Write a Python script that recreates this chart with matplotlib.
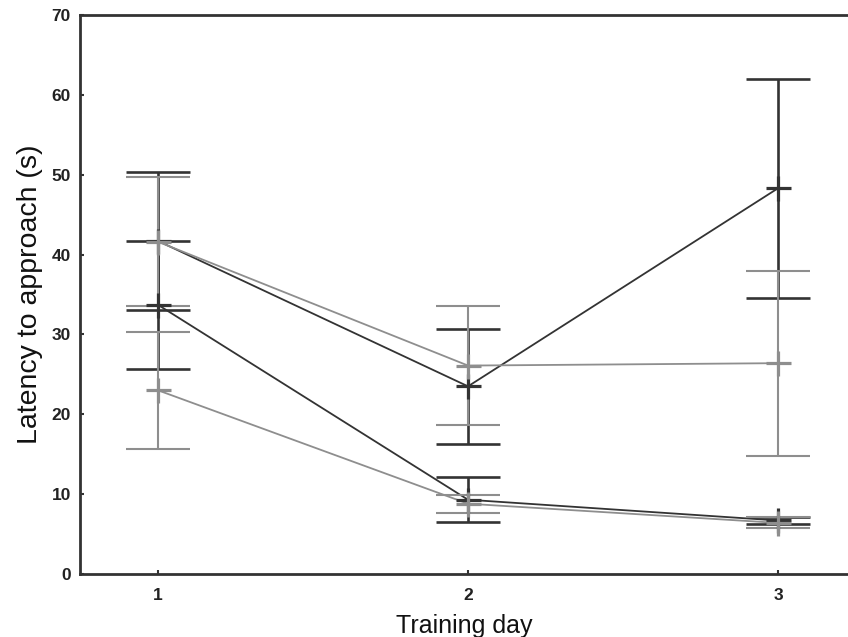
import numpy as np
import matplotlib
matplotlib.use("Agg")
import matplotlib.pyplot as plt

plt.rcParams["font.family"] = ["Liberation Sans", "DejaVu Sans"]

# Dados
dias = [1, 2, 3]
media_a = [41.7, 23.5, 48.3]   # escuro
erro_a = [8.7, 7.2, 13.7]
media_b = [41.6, 26.1, 26.4]   # cinza
erro_b = [8.1, 7.4, 11.6]
media_c = [33.7, 9.3, 6.7]     # escuro
erro_c = [8.0, 2.8, 0.4]
media_d = [23.0, 8.8, 6.4]     # cinza
erro_d = [7.3, 1.1, 0.7]

escuro = "#333333"
cinza = "#8e8e8e"

fig = plt.figure(figsize=(8.48, 6.37), dpi=100)
ax = fig.add_axes([80 / 848, 63 / 637, 768 / 848, 559 / 637])

series = [
    (media_a, erro_a, escuro, 1.9),
    (media_c, erro_c, escuro, 1.9),
    (media_b, erro_b, cinza, 1.5),
    (media_d, erro_d, cinza, 1.5),
]

for media, erro, cor, lw in series:
    ax.plot(dias, media, color=cor, lw=1.3, zorder=2)
    ax.errorbar(dias, media, yerr=erro, fmt="none", ecolor=cor,
                elinewidth=lw, capsize=22.7, capthick=lw, zorder=3)
    ax.plot(dias, media, linestyle="none", marker="+", ms=18,
            mew=2.3, color=cor, zorder=4)

ax.set_xlim(0.748, 3.226)
ax.set_ylim(0, 70)
ax.set_xticks(dias)
ax.set_yticks(np.arange(0, 71, 10))

for s in ["left", "bottom", "top"]:
    ax.spines[s].set_linewidth(2.0)
    ax.spines[s].set_color(escuro)
ax.spines["right"].set_visible(False)

ax.tick_params(direction="in", length=3, width=1.5, color=escuro,
               labelsize=12.5, labelcolor="#222222")
ax.tick_params(axis="y", pad=6.5)
ax.tick_params(axis="x", pad=10)
for lab in ax.get_xticklabels() + ax.get_yticklabels():
    lab.set_fontweight("bold")

ax.set_xlabel("Training day", fontsize=18, labelpad=8, color="#111111")
ax.set_ylabel("Latency to approach (s)", fontsize=20.5, labelpad=6, color="#111111")

fig.savefig("out.png", dpi=100)
